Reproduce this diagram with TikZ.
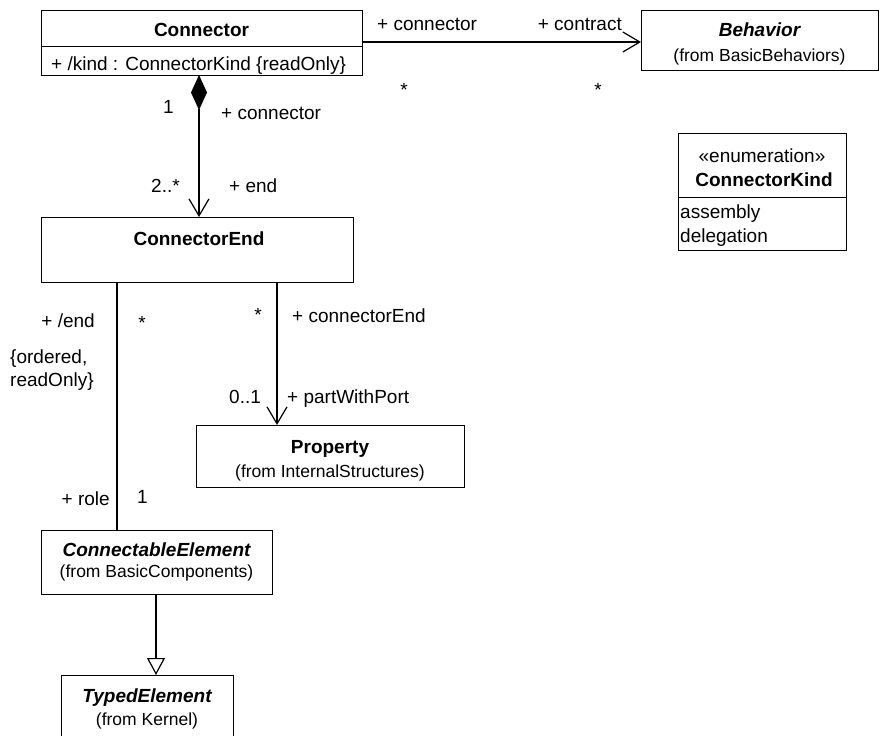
\documentclass[tikz,border=0pt]{standalone}
\usepackage{fontspec}
\setmainfont{Liberation Sans}
\usetikzlibrary{arrows.meta}
\newcommand\fsmain{\fontsize{19}{22}\selectfont}
\newcommand\fssmall{\fontsize{17.5}{20}\selectfont}
\begin{document}
\begin{tikzpicture}[x=1pt,y=-1pt,
  box/.style={draw, line width=1.2pt, inner sep=0pt, anchor=north west},
  txt/.style={inner sep=0pt, font=\fsmain},
  ttl/.style={inner sep=0pt, font=\fsmain\bfseries, anchor=base},
  ittl/.style={inner sep=0pt, font=\fsmain\bfseries\itshape, anchor=base},
  frm/.style={inner sep=0pt, font=\fssmall, anchor=base},
  assoc/.style={line width=1.2pt},
  nav/.style={assoc, -{Straight Barb[length=17pt,width=20pt,line width=1.2pt]}},
  comp/.style={assoc, {Diamond[length=35pt,width=16pt]}-{Straight Barb[length=17pt,width=20pt,line width=1.2pt]}},
  gen/.style={assoc, -{Triangle[open,length=17pt,width=18pt,fill=white,line width=1.2pt]}}
]
\useasboundingbox (0,0) rectangle (881,736);

% Connector
\node[box, minimum width=321pt, minimum height=36pt] (connH) at (41,10) {};
\node[box, minimum width=321pt, minimum height=29pt] (connA) at (41,46) {};
\node[ttl] (connT) at (201.5,36) {Connector};
\node[txt, anchor=base west] (connAt) at (51,70) {+ /kind : ConnectorKind \{readOnly\}};

% Behavior
\node[box, minimum width=237pt, minimum height=60pt] (beh) at (641,10) {};
\node[ittl] (behT) at (759.5,36) {Behavior};
\node[frm] (behF) at (759.5,61) {(from BasicBehaviors)};

% ConnectorKind
\node[box, minimum width=168pt, minimum height=64pt] (ckH) at (678,133) {};
\node[box, minimum width=168pt, minimum height=53pt] (ckA) at (678,197) {};
\node[txt, anchor=base] (ckS) at (762,162) {«enumeration»};
\node[ttl] (ckT) at (764,186) {ConnectorKind};
\node[txt, anchor=base west] (ckL1) at (680,218) {assembly};
\node[txt, anchor=base west] (ckL2) at (680,242) {delegation};

% ConnectorEnd
\node[box, minimum width=312pt, minimum height=65pt] (ce) at (41,217) {};
\node[ttl] (ceT) at (199,245) {ConnectorEnd};

% Property
\node[box, minimum width=268pt, minimum height=62pt] (prop) at (196,425) {};
\node[ttl] (propT) at (330,453) {Property};
\node[frm] (propF) at (330,477) {(from InternalStructures)};

% ConnectableElement
\node[box, minimum width=231pt, minimum height=64pt] (cel) at (41,530) {};
\node[ittl] (celT) at (156.5,556) {ConnectableElement};
\node[frm] (celF) at (156.5,577) {(from BasicComponents)};

% TypedElement
\node[box, minimum width=172pt, minimum height=70pt] (te) at (61,675) {};
\node[ittl] (teT) at (147,702) {TypedElement};
\node[frm] (teF) at (147,725) {(from Kernel)};

% connector end points
\coordinate (cbA) at (362,42);
\coordinate (cbB) at (641,42);
\coordinate (ccA) at (199,75);
\coordinate (ccB) at (199,217);
\coordinate (epA) at (277,282);
\coordinate (epB) at (277,425);
\coordinate (erA) at (117,282);
\coordinate (erB) at (117,530);
\coordinate (gA) at (156,594);
\coordinate (gB) at (156,675);

\draw[nav] (cbA) -- (cbB);
\draw[comp] (ccA) -- (ccB);
\draw[nav] (epA) -- (epB);
\draw[assoc] (erA) -- (erB);
\draw[gen] (gA) -- (gB);

% labels
\node[txt, anchor=base west] (l1) at (377,30) {+ connector};
\node[txt, anchor=base east] (l2) at (622,30) {+ contract};
\node[txt, anchor=base] (l3) at (404,96) {*};
\node[txt, anchor=base] (l4) at (598,96) {*};

\node[txt, anchor=base west] (l5) at (163,113) {1};
\node[txt, anchor=base west] (l6) at (221,119) {+ connector};
\node[txt, anchor=base west] (l7) at (151,192) {2..*};
\node[txt, anchor=base west] (l8) at (229,192) {+ end};

\node[txt, anchor=base east] (l9) at (95,327) {+ /end};
\node[txt, anchor=base] (l10) at (142,329) {*};
\node[txt, anchor=base west] (l11) at (10,363) {\{ordered,};
\node[txt, anchor=base west] (l12) at (10,386) {readOnly\}};

\node[txt, anchor=base] (l13) at (258,321) {*};
\node[txt, anchor=base west] (l14) at (292,322) {+ connectorEnd};
\node[txt, anchor=base west] (l15) at (229,403) {0..1};
\node[txt, anchor=base west] (l16) at (287,403) {+ partWithPort};

\node[txt, anchor=base east] (l17) at (110,505) {+ role};
\node[txt, anchor=base west] (l18) at (137,503) {1};
\end{tikzpicture}
\end{document}
